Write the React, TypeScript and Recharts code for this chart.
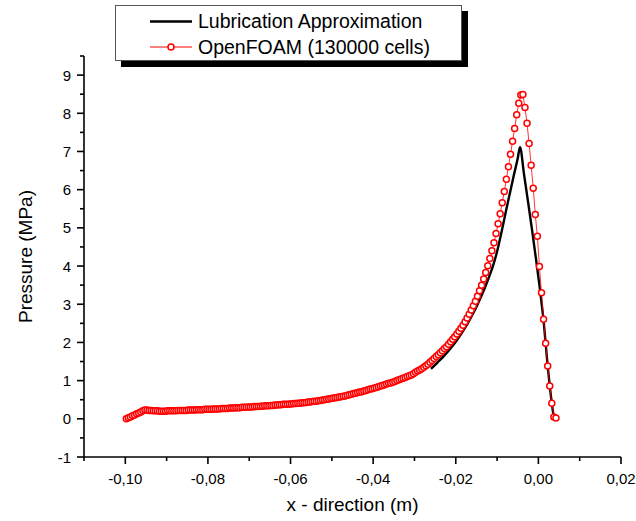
import { LineChart, Line, XAxis, YAxis, Legend, Label } from 'recharts';

const FONT = '"Liberation Sans", Arial, Helvetica, sans-serif';

// OpenFOAM (130000 cells) - cell centres along x (mm) and pressure (MPa)
const cfdXmm = [
  -99.75, -99.25, -98.75, -98.25, -97.75, -97.25, -96.75, -96.25, -95.75, -95.25,
  -94.75, -94.25, -93.75, -93.25, -92.75, -92.25, -91.75, -91.25, -90.75, -90.25,
  -89.75, -89.25, -88.75, -88.25, -87.75, -87.25, -86.75, -86.25, -85.75, -85.25,
  -84.75, -84.25, -83.75, -83.25, -82.75, -82.25, -81.75, -81.25, -80.75, -80.25,
  -79.75, -79.25, -78.75, -78.25, -77.75, -77.25, -76.75, -76.25, -75.75, -75.25,
  -74.75, -74.25, -73.75, -73.25, -72.75, -72.25, -71.75, -71.25, -70.75, -70.25,
  -69.75, -69.25, -68.75, -68.25, -67.75, -67.25, -66.75, -66.25, -65.75, -65.25,
  -64.75, -64.25, -63.75, -63.25, -62.75, -62.25, -61.75, -61.25, -60.75, -60.25,
  -59.75, -59.25, -58.75, -58.25, -57.75, -57.25, -56.75, -56.25, -55.75, -55.25,
  -54.75, -54.25, -53.75, -53.25, -52.75, -52.25, -51.75, -51.25, -50.75, -50.25,
  -49.75, -49.25, -48.75, -48.25, -47.75, -47.25, -46.75, -46.25, -45.75, -45.25,
  -44.75, -44.25, -43.75, -43.25, -42.75, -42.25, -41.75, -41.25, -40.75, -40.25,
  -39.75, -39.25, -38.75, -38.25, -37.75, -37.25, -36.75, -36.25, -35.75, -35.25,
  -34.75, -34.25, -33.75, -33.25, -32.75, -32.25, -31.75, -31.25, -30.75, -30.25,
  -29.75, -29.25, -28.75, -28.25, -27.75, -27.25, -26.75, -26.25, -25.75, -25.25,
  -24.75, -24.25, -23.75, -23.25, -22.75, -22.25, -21.75, -21.25, -20.75, -20.25,
  -19.75, -19.25, -18.75, -18.25, -17.75, -17.25, -16.75, -16.25, -15.75, -15.25,
  -14.75, -14.25, -13.75, -13.25, -12.75, -12.25, -11.75, -11.25, -10.75, -10.25,
  -9.75, -9.25, -8.75, -8.25, -7.75, -7.25, -6.75, -6.25, -5.75, -5.25,
  -4.75, -4.25, -3.75, -3.25, -2.75, -2.25, -1.75, -1.25, -0.75, -0.25,
  0.25, 0.75, 1.25, 1.75, 2.25, 2.75, 3.25, 3.75, 4.25,
];
const cfdP = [
  0.00, 0.03, 0.05, 0.08, 0.10, 0.13, 0.15, 0.18, 0.21, 0.23,
  0.23, 0.22, 0.22, 0.21, 0.21, 0.21, 0.20, 0.20, 0.20, 0.20,
  0.21, 0.21, 0.21, 0.21, 0.21, 0.22, 0.22, 0.22, 0.22, 0.22,
  0.23, 0.23, 0.23, 0.23, 0.24, 0.24, 0.24, 0.24, 0.25, 0.25,
  0.25, 0.25, 0.26, 0.26, 0.26, 0.26, 0.27, 0.27, 0.27, 0.27,
  0.28, 0.28, 0.28, 0.29, 0.29, 0.29, 0.30, 0.30, 0.30, 0.31,
  0.31, 0.31, 0.32, 0.32, 0.32, 0.33, 0.33, 0.34, 0.34, 0.34,
  0.35, 0.35, 0.36, 0.36, 0.37, 0.37, 0.38, 0.38, 0.38, 0.39,
  0.39, 0.40, 0.40, 0.41, 0.41, 0.42, 0.42, 0.43, 0.44, 0.44,
  0.45, 0.46, 0.46, 0.47, 0.48, 0.49, 0.50, 0.51, 0.52, 0.53,
  0.54, 0.55, 0.56, 0.57, 0.58, 0.59, 0.60, 0.62, 0.63, 0.64,
  0.66, 0.67, 0.69, 0.70, 0.71, 0.73, 0.74, 0.76, 0.78, 0.79,
  0.81, 0.82, 0.84, 0.86, 0.87, 0.89, 0.91, 0.93, 0.94, 0.96,
  0.98, 1.00, 1.02, 1.04, 1.06, 1.08, 1.11, 1.13, 1.15, 1.18,
  1.22, 1.25, 1.28, 1.31, 1.35, 1.39, 1.43, 1.48, 1.53, 1.58,
  1.63, 1.68, 1.73, 1.78, 1.84, 1.89, 1.95, 2.02, 2.08, 2.15,
  2.22, 2.29, 2.37, 2.45, 2.54, 2.64, 2.74, 2.85, 2.96, 3.08,
  3.21, 3.35, 3.50, 3.66, 3.83, 4.01, 4.20, 4.40, 4.61, 4.85,
  5.11, 5.37, 5.66, 5.95, 6.27, 6.60, 6.93, 7.27, 7.60, 7.96,
  8.26, 8.48, 8.49, 8.15, 7.74, 7.21, 6.64, 6.04, 5.35, 4.78,
  3.99, 3.30, 2.61, 1.98, 1.38, 0.86, 0.41, 0.05, 0.02,
];

// Lubrication approximation (visible part of the curve)
const lubXmm = [
  -26, -25, -24, -23, -22, -21, -20, -19, -18, -17, -16, -15, -14, -13, -12, -11,
  -10, -9, -8, -7, -6, -5, -4.45, -3.5, -2.5, -1.5, -0.5, 0.25, 0.75, 1.25, 1.75,
  2.25, 2.75, 3.25, 3.75, 4.4,
];
const lubP = [
  1.31, 1.41, 1.52, 1.63, 1.75, 1.88, 2.02, 2.17, 2.34, 2.52, 2.72, 2.93, 3.17, 3.42, 3.70, 4.00,
  4.38, 4.85, 5.36, 5.86, 6.35, 6.82, 7.11, 6.42, 5.68, 4.92, 4.12, 3.50, 3.05, 2.58, 1.98,
  1.38, 0.86, 0.41, 0.08, 0.02,
];

const seriesNames = ['Lubrication Approximation', 'OpenFOAM (130000 cells)'];

const xMajor = [-0.1, -0.08, -0.06, -0.04, -0.02, 0, 0.02];
const xMinor = [-0.11, -0.09, -0.07, -0.05, -0.03, -0.01, 0.01];
const yMajor = [-1, 0, 1, 2, 3, 4, 5, 6, 7, 8, 9];
const yMinor = [-0.5, 0.5, 1.5, 2.5, 3.5, 4.5, 5.5, 6.5, 7.5, 8.5, 9.5];

const cfdData = cfdXmm.map((x, i) => ({ x: x / 1000, p: cfdP[i] }));
const lubData = lubXmm.map((x, i) => ({ x: x / 1000, p: lubP[i] }));

const isIn = (list: number[], v: number) => list.some((t) => Math.abs(t - v) < 1e-9);
const fmtX = (v: number) => (Math.abs(v) < 1e-12 ? 0 : v).toFixed(2).replace('.', ',');

const XTick = (props: any) => {
  const { x, y, payload } = props;
  const major = isIn(xMajor, payload.value);
  return (
    <g>
      <line x1={x} x2={x} y1={y} y2={y + (major ? 7 : 4)} stroke="#000" strokeWidth={1.6} />
      {major && (
        <text x={x} y={y + 27} textAnchor="middle" fontSize={15} fontFamily={FONT} fill="#000">
          {fmtX(payload.value)}
        </text>
      )}
    </g>
  );
};

const YTick = (props: any) => {
  const { x, y, payload } = props;
  const major = isIn(yMajor, payload.value);
  return (
    <g>
      <line x1={x} x2={x - (major ? 7 : 4)} y1={y} y2={y} stroke="#000" strokeWidth={1.6} />
      {major && (
        <text x={x - 13} y={y + 5.5} textAnchor="end" fontSize={15} fontFamily={FONT} fill="#000">
          {payload.value}
        </text>
      )}
    </g>
  );
};

const XTitle = (props: any) => {
  const { x, y, width } = props.viewBox;
  return (
    <text x={x + width / 2} y={y + 54} textAnchor="middle" fontSize={19} fontFamily={FONT} fill="#000">
      x - direction (m)
    </text>
  );
};

const YTitle = (props: any) => {
  const { x, y, height } = props.viewBox;
  const cx = x + 32;
  const cy = y + height / 2;
  return (
    <text x={cx} y={cy} transform={`rotate(-90 ${cx} ${cy})`} textAnchor="middle" fontSize={19} fontFamily={FONT} fill="#000">
      Pressure (MPa)
    </text>
  );
};

const LegendBox = () => (
  <svg width={354} height={63} style={{ display: 'block' }}>
    <rect x={6} y={6} width={347} height={56} fill="#000" />
    <rect x={0.5} y={0.5} width={346} height={55} fill="#fff" stroke="#555" strokeWidth={1} />
    <line x1={35} x2={77} y1={16.5} y2={16.5} stroke="#000" strokeWidth={2.3} />
    <text x={83} y={23} fontSize={19.5} fontFamily={FONT} fill="#000">{seriesNames[0]}</text>
    <line x1={35} x2={77} y1={42} y2={42} stroke="#ff0000" strokeWidth={1} />
    <circle cx={56} cy={42} r={3} fill="#fff" stroke="#ff0000" strokeWidth={1.5} />
    <text x={83} y={48.5} fontSize={19.5} fontFamily={FONT} fill="#000">{seriesNames[1]}</text>
  </svg>
);

export default function App() {
  return (
    <div style={{ position: 'absolute', left: 0, top: 0, background: '#fff' }}>
      <LineChart width={636} height={521} margin={{ top: 56, right: 15, bottom: 0, left: 0 }}>
        <XAxis
          dataKey="x"
          type="number"
          domain={[-0.11, 0.02]}
          allowDataOverflow
          ticks={[...xMinor, ...xMajor].sort((a, b) => a - b)}
          interval={0}
          height={64}
          tickSize={0}
          tickMargin={0}
          tickLine={false}
          axisLine={{ stroke: '#000', strokeWidth: 1.6 }}
          tick={<XTick />}
        >
          <Label content={<XTitle />} />
        </XAxis>
        <YAxis
          type="number"
          domain={[-1, 9.5]}
          allowDataOverflow
          ticks={[...yMinor, ...yMajor].sort((a, b) => a - b)}
          interval={0}
          width={84}
          tickSize={0}
          tickMargin={0}
          tickLine={false}
          axisLine={{ stroke: '#000', strokeWidth: 1.6 }}
          tick={<YTick />}
        >
          <Label content={<YTitle />} />
        </YAxis>
        <Legend
          layout="horizontal"
          verticalAlign="middle"
          align="center"
          content={<LegendBox />}
          wrapperStyle={{ left: 115, top: 5, width: 354, height: 63 }}
        />
        <Line
          data={lubData}
          dataKey="p"
          name={seriesNames[0]}
          type="monotone"
          stroke="#000"
          strokeWidth={2.4}
          dot={false}
          isAnimationActive={false}
        />
        <Line
          data={cfdData}
          dataKey="p"
          name={seriesNames[1]}
          type="linear"
          stroke="#ff0000"
          strokeWidth={0.8}
          dot={{ r: 3, stroke: '#ff0000', strokeWidth: 1.5, fill: '#fff' }}
          isAnimationActive={false}
        />
      </LineChart>
    </div>
  );
}
